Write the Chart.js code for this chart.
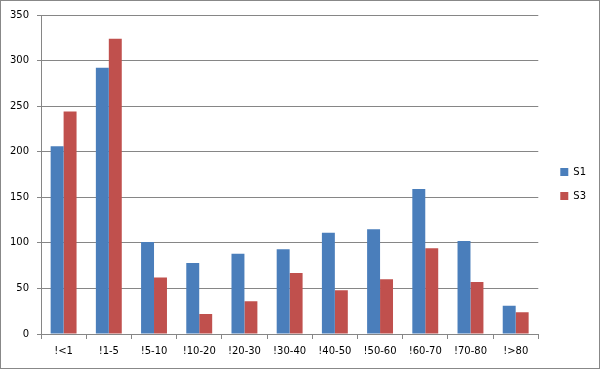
<!DOCTYPE html>
<html lang="en">
<head>
    <meta charset="UTF-8">
    <title>S1 / S3</title>
    <script src="https://cdn.jsdelivr.net/npm/chart.js"></script>
    <style>
        body { margin: 0; background: #fff; }
        #wrap { width: 600px; height: 369px; }
    </style>
</head>
<body>
    <div id="wrap"><canvas id="chart"></canvas></div>

    <script>
        // categories + values
        const labels = ['!<1', '!1-5', '!5-10', '!10-20', '!20-30', '!30-40', '!40-50', '!50-60', '!60-70', '!70-80', '!>80'];
        const s1 = [206, 292, 101, 78, 88, 93, 111, 115, 159, 102, 31];
        const s3 = [244, 324, 62, 22, 36, 67, 48, 60, 94, 57, 24];
        const yTicks = [0, 50, 100, 150, 200, 250, 300, 350];

        const lineColor = '#868686';

        // white background + grey frame round the whole chart
        const frame = {
            id: 'frame',
            beforeDraw(chart) {
                const c = chart.ctx;
                c.save();
                c.fillStyle = '#fff';
                c.fillRect(0, 0, chart.width, chart.height);
                c.strokeStyle = '#888';
                c.lineWidth = 1;
                c.strokeRect(0.5, 0.5, chart.width - 1, chart.height - 1);
                c.restore();
            },
            afterLayout(chart) {
                // nudge the legend: a bit right of the plot, centred on the whole chart height
                chart.legend.left += 8;
                chart.legend.top -= 8;
                chart.legend.bottom -= 8;
            }
        };

        Chart.defaults.font.family = '"DejaVu Sans", Verdana, sans-serif';
        Chart.defaults.font.size = 10;
        Chart.defaults.color = '#000';

        new Chart(document.getElementById('chart'), {
            type: 'bar',
            data: {
                labels: labels,
                datasets: [
                    { label: 'S1', data: s1, backgroundColor: '#4a7ebb' },
                    { label: 'S3', data: s3, backgroundColor: '#c0504d' }
                ]
            },
            options: {
                responsive: true,
                maintainAspectRatio: false,
                animation: false,
                layout: { padding: { top: 15, left: 0, right: 12, bottom: 0 } },
                categoryPercentage: 0.573,
                barPercentage: 1,
                plugins: {
                    tooltip: { enabled: false },
                    legend: {
                        position: 'right',
                        labels: {
                            boxWidth: 8,
                            boxHeight: 8,
                            padding: 14,
                            color: '#000'
                        }
                    }
                },
                scales: {
                    x: {
                        grid: { drawOnChartArea: false, drawTicks: true, tickLength: 5, color: lineColor },
                        border: { color: lineColor },
                        ticks: { padding: 6, maxRotation: 0 },
                        afterFit(scale) { scale.height = 35; }
                    },
                    y: {
                        min: 0,
                        max: 350,
                        afterBuildTicks(scale) { scale.ticks = yTicks.map(v => ({ value: v })); },
                        grid: { color: lineColor, tickLength: 4 },
                        border: { color: lineColor },
                        ticks: { padding: 8 },
                        afterFit(scale) { scale.width = 41; }
                    }
                }
            },
            plugins: [frame]
        });
    </script>
</body>
</html>
